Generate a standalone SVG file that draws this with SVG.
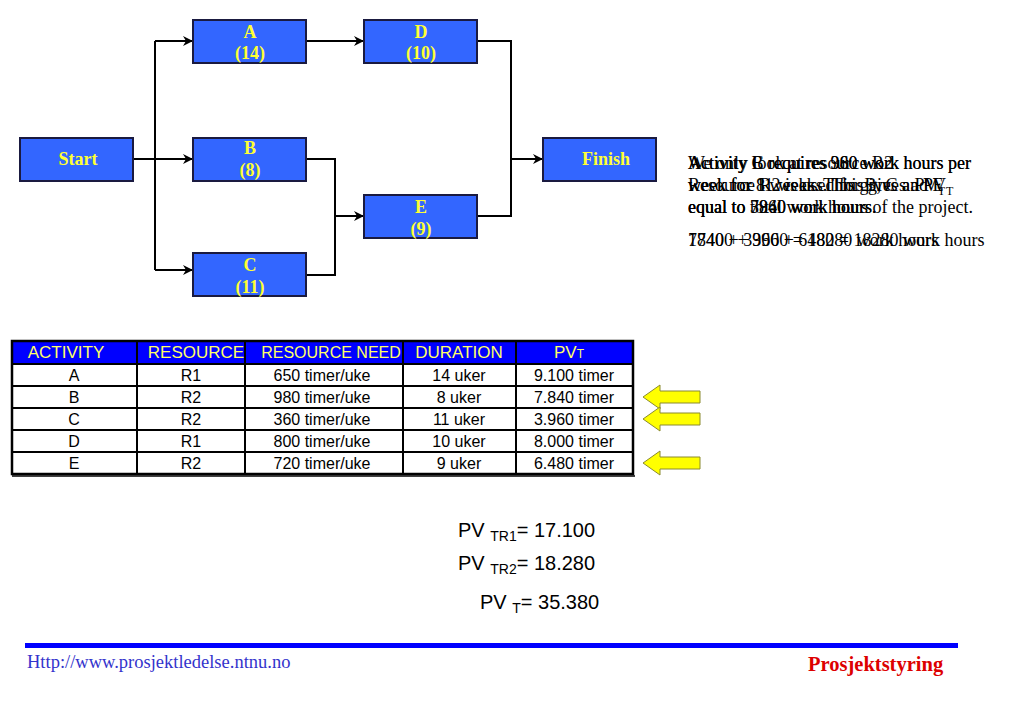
<svg xmlns="http://www.w3.org/2000/svg" width="1023" height="708" viewBox="0 0 1023 708">
<style>
.box{fill:#3366ff;stroke:#1a1a40;stroke-width:2}
.bl{font-family:"Liberation Serif",serif;font-weight:bold;font-size:18px;fill:#ffff33;text-anchor:middle}
.conn{fill:none;stroke:#000;stroke-width:2}
.th{font-family:"Liberation Sans",Arial,sans-serif;font-size:17px;fill:#ffff66;text-anchor:middle}
.td{font-family:"Liberation Sans",Arial,sans-serif;font-size:16px;fill:#000;text-anchor:middle}
.note{font-family:"Liberation Serif",serif;font-size:18px;fill:#000}
.pv{font-family:"Liberation Sans",Arial,sans-serif;font-size:20px;fill:#000}
.sub{font-size:12px}
.psub{font-size:14px}
.yarrow{fill:#ffff00;stroke:#8a8a30;stroke-width:1}
</style>
<defs>
<marker id="ah" markerWidth="10" markerHeight="10" refX="9" refY="5" orient="auto" markerUnits="userSpaceOnUse">
<path d="M0,0 L10,5 L0,10 L3,5 Z" fill="#000"/>
</marker>
</defs>
<rect width="1023" height="708" fill="#fff"/>

<g id="connectors">
<path class="conn" d="M133,159 H155"/>
<path class="conn" d="M155,41 V270"/>
<path class="conn" d="M155,41 H192" marker-end="url(#ah)"/>
<path class="conn" d="M155,159 H192" marker-end="url(#ah)"/>
<path class="conn" d="M155,270 H192" marker-end="url(#ah)"/>
<path class="conn" d="M306,41 H363" marker-end="url(#ah)"/>
<path class="conn" d="M306,159 H335 V275 H306"/>
<path class="conn" d="M335,216 H363" marker-end="url(#ah)"/>
<path class="conn" d="M477,41 H511 V216 H477"/>
<path class="conn" d="M511,159 H542" marker-end="url(#ah)"/>
</g>

<g id="node-start"><rect class="box" x="20" y="138" width="113" height="43"/><text class="bl" x="78" y="165">Start</text></g>
<g id="node-a"><rect class="box" x="193" y="20" width="113" height="43"/><text class="bl" x="250" y="38">A</text><text class="bl" x="250" y="59">(14)</text></g>
<g id="node-b"><rect class="box" x="193" y="138" width="113" height="43"/><text class="bl" x="250" y="154">B</text><text class="bl" x="250" y="176">(8)</text></g>
<g id="node-c"><rect class="box" x="193" y="253" width="113" height="43"/><text class="bl" x="250" y="271">C</text><text class="bl" x="250" y="293">(11)</text></g>
<g id="node-d"><rect class="box" x="364" y="20" width="113" height="43"/><text class="bl" x="421" y="38">D</text><text class="bl" x="421" y="59">(10)</text></g>
<g id="node-e"><rect class="box" x="364" y="195" width="113" height="43"/><text class="bl" x="421" y="213">E</text><text class="bl" x="421" y="235">(9)</text></g>
<g id="node-finish"><rect class="box" x="543" y="138" width="113" height="43"/><text class="bl" x="606" y="165">Finish</text></g>

<g id="notes">
<text class="note" x="688" y="169">Activity B requires 980 work hours per</text>
<text class="note" x="688" y="169">Activity C requires 360 work hours per</text>
<text class="note" x="688" y="169">We only look at resource R2</text>
<text class="note" x="688" y="191">week for 8 weeks. This gives a PV<tspan class="sub" dy="4">T</tspan></text>
<text class="note" x="688" y="191">week for 11 weeks. This gives a PV<tspan class="sub" dy="4">T</tspan></text>
<text class="note" x="688" y="191">Resource R2 is used for B, C and E</text>
<text class="note" x="688" y="213">equal to 7840 work hours.</text>
<text class="note" x="688" y="213">equal to 3960 work hours.</text>
<text class="note" x="688" y="213">equal to total work hours of the project.</text>
<text class="note" x="688" y="246">7840 + 3960 + 6480 = 18280 work hours</text>
<text class="note" x="688" y="246">17400 + 3960 = 18280 work hours</text>
</g>

<g id="table">
<rect x="12" y="341" width="621" height="23" fill="#0000ff"/>
<rect x="12" y="364" width="621" height="110" fill="#fff"/>
<g stroke="#000" stroke-width="2" fill="none">
<rect x="12" y="341" width="621" height="133" stroke-width="2.5"/>
<path d="M12,364 H633 M12,386 H633 M12,408 H633 M12,430 H633 M12,452 H633"/>
<path d="M137,341 V474 M245,341 V474 M403,341 V474 M516,341 V474"/>
<path d="M12,476 H635" stroke-width="1.5"/>
</g>
<text class="th" x="66" y="358">ACTIVITY</text>
<text class="th" x="196" y="358">RESOURCE</text>
<text class="th" x="331" y="358" style="font-size:16px">RESOURCE NEED</text>
<text class="th" x="459" y="358">DURATION</text>
<text class="th" x="569" y="358">PV<tspan class="sub">T</tspan></text>

<text class="td" x="74" y="381">A</text><text class="td" x="191" y="381">R1</text><text class="td" x="322" y="381">650 timer/uke</text><text class="td" x="459" y="381">14 uker</text><text class="td" x="574" y="381">9.100 timer</text>
<text class="td" x="74" y="403">B</text><text class="td" x="191" y="403">R2</text><text class="td" x="322" y="403">980 timer/uke</text><text class="td" x="459" y="403">8 uker</text><text class="td" x="574" y="403">7.840 timer</text>
<text class="td" x="74" y="425">C</text><text class="td" x="191" y="425">R2</text><text class="td" x="322" y="425">360 timer/uke</text><text class="td" x="459" y="425">11 uker</text><text class="td" x="574" y="425">3.960 timer</text>
<text class="td" x="74" y="447">D</text><text class="td" x="191" y="447">R1</text><text class="td" x="322" y="447">800 timer/uke</text><text class="td" x="459" y="447">10 uker</text><text class="td" x="574" y="447">8.000 timer</text>
<text class="td" x="74" y="469">E</text><text class="td" x="191" y="469">R2</text><text class="td" x="322" y="469">720 timer/uke</text><text class="td" x="459" y="469">9 uker</text><text class="td" x="574" y="469">6.480 timer</text>
</g>

<g id="yellow-arrows">
<path class="yarrow" d="M643,397 L660,385 V391 H700 V403 H660 V409 Z"/>
<path class="yarrow" d="M643,419 L660,407 V413 H700 V425 H660 V431 Z"/>
<path class="yarrow" d="M643,463 L660,451 V457 H700 V469 H660 V475 Z"/>
</g>

<g id="pv">
<text class="pv" x="458" y="537">PV <tspan class="psub" dy="4">TR1</tspan><tspan dy="-4">= 17.100</tspan></text>
<text class="pv" x="458" y="570">PV <tspan class="psub" dy="4">TR2</tspan><tspan dy="-4">= 18.280</tspan></text>
<text class="pv" x="480" y="609">PV <tspan class="psub" dy="4">T</tspan><tspan dy="-4">= 35.380</tspan></text>
</g>

<g id="footer">
<rect x="25" y="643" width="933" height="5" fill="#0000ff"/>
<text x="27" y="668" style="font-family:'Liberation Serif',serif;font-size:18.5px;fill:#3333cc">Http://www.prosjektledelse.ntnu.no</text>
<text x="808" y="671" style="font-family:'Liberation Serif',serif;font-size:20.5px;font-weight:bold;fill:#dd0000">Prosjektstyring</text>
</g>
</svg>
